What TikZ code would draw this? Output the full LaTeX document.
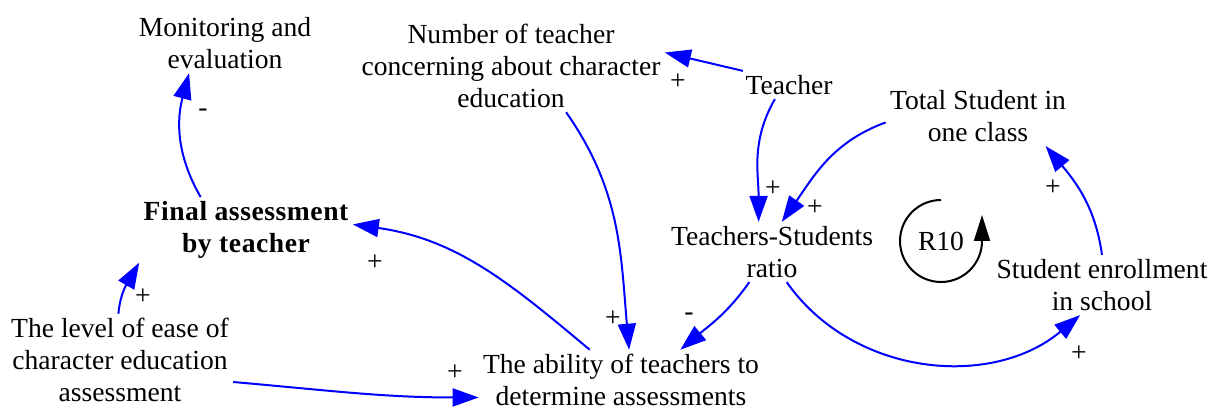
\documentclass[tikz,border=0pt]{standalone}
\usepackage{fontspec}
\setmainfont{Liberation Serif}
\usetikzlibrary{arrows.meta}

\begin{document}
\begin{tikzpicture}[x=0.5pt,y=0.5pt,
		var/.style={align=center,inner sep=2pt,font=\fontsize{13.8}{16}\selectfont},
		sign/.style={inner sep=0pt,font=\fontsize{13.8}{16}\selectfont},
		link/.style={blue,line width=1pt,-{Triangle[length=13pt,width=9pt]}}]
		\useasboundingbox (0,0) rectangle (1218,-410);
		% variables
		\node[var] (mon) at (225,-43) {Monitoring and\\evaluation};
		\node[var] (num) at (511,-66) {Number of teacher\\concerning about character\\education};
		\node[var] (teacher) at (789,-85) {Teacher};
		\node[var] (total) at (978,-116) {Total Student in\\one class};
		\node[var,font=\fontsize{13.8}{16}\selectfont\bfseries\addfontfeature{LetterSpace=2}] (final) at (246,-230) {Final assessment\\by teacher};
		\node[var] (ratio) at (772,-252) {Teachers-Students\\ratio};
		\node[var] (enroll) at (1102,-285) {Student enrollment\\in school};
		\node[var] (ease) at (120,-360) {The level of ease of\\character education\\assessment};
		\node[var] (ability) at (621,-380) {The ability of teachers to\\determine assessments};
		% links
		\draw[link] (final.144) to[out=120,in=255] (mon.220);
		\draw[link] (teacher.163) -- (num.5);
		\draw[link] (teacher.225) to[out=240,in=90] (ratio.114);
		\draw[link] (total.184) to[out=200,in=55] (ratio.72);
		\draw[link] (num.320) to[out=-55,in=95] (ability.75);
		\draw[link] (ability.136) to[out=140,in=-8] (final.3);
		\draw[link] (ease.92) to[out=85,in=240] (final.197);
		\draw[link] (ease.349) to[out=-5,in=180] (ability.187);
		\draw[link] (ratio.233) to[out=235,in=40] (ability.27);
		\draw[link] (ratio.296) to[out=-55,in=220] (enroll.234);
		\draw[link] (enroll.90) to[out=98,in=-50] (total.336);
		% polarities
		\node[sign] (s1) at (203,-113) {-};
		\node[sign] (s2) at (678,-82) {+};
		\node[sign] (s3) at (773,-189) {+};
		\node[sign] (s4) at (815,-208) {+};
		\node[sign] (s5) at (613,-319) {+};
		\node[sign] (s6) at (375,-263) {+};
		\node[sign] (s7) at (143,-297) {+};
		\node[sign] (s8) at (455,-373) {+};
		\node[sign] (s9) at (689,-317) {-};
		\node[sign] (s10) at (1079,-354) {+};
		\node[sign] (s11) at (1053,-188) {+};
		% loop
		\node[var] (r10) at (941,-241) {R10};
		\draw[line width=1pt,-{Triangle[length=13pt,width=8pt]}] (r10.center) ++(0,41) arc[start angle=90,end angle=360,radius=41] -- ++(0,26);
\end{tikzpicture}
\end{document}
